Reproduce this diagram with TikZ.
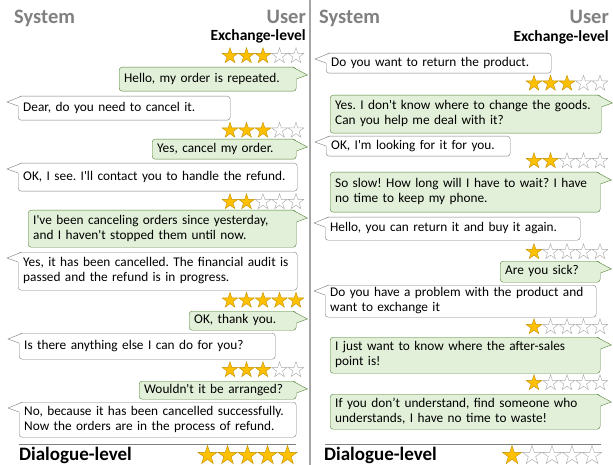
\documentclass[tikz,border=0pt]{standalone}
\usepackage{fontspec}
\setmainfont{Carlito}
\newfontfamily\msgfont{Carlito}
\frenchspacing
\usetikzlibrary{positioning}
\usetikzlibrary{shapes.geometric}
\definecolor{usergreen}{HTML}{E2F0D9}
\definecolor{userline}{HTML}{548235}
\definecolor{sysline}{HTML}{7F7F7F}
\definecolor{headgray}{HTML}{808080}
\definecolor{starfill}{HTML}{FFC000}
\definecolor{starline}{HTML}{BF8F00}
\definecolor{emptyline}{HTML}{A6A6A6}
\tikzset{msg/.style={rectangle,rounded corners=3pt,inner sep=1pt,inner
    xsep=5pt,align=left,anchor=north west,
    font=\msgfont\fontsize{13.3}{15}\selectfont\frenchspacing,
    execute at begin node=\strut,execute at end node=\strut},
    sysmsg/.style={msg,draw=sysline,fill=white},
    usermsg/.style={msg,draw=userline,fill=usergreen},
    systail/.style={draw=sysline,fill=none},
    usertail/.style={draw=userline,fill=none},
    ratestar/.style={star,star points=5,star point ratio=2.6,inner sep=0pt},
    header/.style={font=\bfseries\fontsize{20.5}{20.5}\selectfont,
    text=headgray,inner sep=0pt},
    level/.style={font=\bfseries\fontsize{15.5}{15.5}\selectfont,inner sep=0pt},
    dlevel/.style={font=\bfseries\fontsize{19}{19}\selectfont,inner sep=0pt},
    sepline/.style={-,emptyline,line width=1.5pt},
    rule/.style={-,sysline,line width=0.8pt}}
\newcommand\systail[1]{%
    \fill[white]([xshift=4pt]#1.north west)--([xshift=-11pt,yshift=-6pt]#1.north west)
    --([yshift=-10pt]#1.north west)--([xshift=4pt,yshift=-10pt]#1.north west)--cycle;
    \draw[systail]([xshift=4pt]#1.north west)--([xshift=-11pt,yshift=-6pt]#1.north west)
    --([yshift=-10pt]#1.north west);}
\newcommand\usertail[1]{%
    \fill[usergreen]([xshift=-4pt]#1.north east)--([xshift=11pt,yshift=-8pt]#1.north east)
    --([yshift=-12pt]#1.north east)--([xshift=-4pt,yshift=-12pt]#1.north east)--cycle;
    \draw[usertail]([xshift=-4pt]#1.north east)--([xshift=11pt,yshift=-8pt]#1.north east)
    --([yshift=-12pt]#1.north east);}
\newcommand\rating[5]{%
    \foreach \i in {1,...,5}{%
        \ifnum\i>#2\relax\def\fc{white}\def\dc{emptyline}%
        \else\def\fc{starfill}\def\dc{starline}\fi
        \node[ratestar,draw=\dc,fill=\fc,minimum size=#5pt]
            (#1-\i) at ({#3+(\i-1)*#5},#4) {};}}

\begin{document}
\begin{tikzpicture}[x=1pt,y=-1pt]
        \useasboundingbox (0,0) rectangle (613,465);
        \draw[sepline](310,0)--(310,465);
        \node[header,anchor=base west] (sysA) at (14,24) {System};
        \node[header,anchor=base east] (usrA) at (306,24) {User};
        \node[level,anchor=base east] (exA) at (306,41) {Exchange-level};
        \node[header,anchor=base west] (sysB) at (319,24) {System};
        \node[header,anchor=base east] (usrB) at (609,24) {User};
        \node[level,anchor=base east] (exB) at (609,42) {Exchange-level};
        \rating{ra1}{3}{230}{56}{16.5}
        \node[usermsg,text width=167pt,minimum height=24pt] (u1) at (119,67) {Hello, my order is repeated.};
        \node[sysmsg,text width=202pt,minimum height=24pt] (s1) at (18,96) {Dear, do you need to cancel it.};
        \rating{ra2}{3}{230}{130.5}{16.5}
        \node[usermsg,text width=134pt,minimum height=20pt] (u2) at (152,139) {Yes, cancel my order.};
        \node[sysmsg,text width=269pt,minimum height=28pt] (s2) at (18,163) {OK, I see. I'll contact you to handle the refund.};
        \rating{ra3}{2}{230}{202}{16.5}
        \node[usermsg,text width=258pt,minimum height=37pt] (u3) at (28,210) {I've been canceling orders since yesterday,\\and I haven't stopped them until now.};
        \node[sysmsg,text width=269pt,minimum height=38pt] (s3) at (18,252) {Yes, it has been cancelled. The financial audit is\\passed and the refund is in progress.};
        \rating{ra4}{5}{230}{300.5}{16.5}
        \node[usermsg,text width=97pt,minimum height=19pt] (u4) at (189,311) {OK, thank you.};
        \node[sysmsg,text width=246pt,minimum height=26pt] (s4) at (19,333) {Is there anything else I can do for you?};
        \rating{ra5}{3}{230}{370}{16.5}
        \node[usermsg,text width=147pt,minimum height=18pt] (u5) at (139,381) {Wouldn't it be arranged?};
        \node[sysmsg,text width=267pt,minimum height=35pt] (s5) at (19,402) {No, because it has been cancelled successfully.\\Now the orders are in the process of refund.};
        \draw[rule](19,444)--(296,444);
        \node[dlevel,anchor=base west] (dlA) at (19,460) {Dialogue-level};
        \rating{rd1}{5}{207.5}{455.5}{20}
        \node[sysmsg,text width=215pt,minimum height=20pt] (s6) at (326,53) {Do you want to return the product.};
        \rating{rb1}{3}{534}{83.5}{16.5}
        \node[usermsg,text width=261pt,minimum height=38pt] (u6) at (330,95) {Yes. I don't know where to change the goods.\\Can you help me deal with it?};
        \node[sysmsg,text width=174pt,minimum height=20pt] (s7) at (326,136) {OK, I'm looking for it for you.};
        \rating{rb2}{2}{534}{161}{16.5}
        \node[usermsg,text width=260pt,minimum height=40pt] (u7) at (330,172) {So slow! How long will I have to wait? I have\\no time to keep my phone.};
        \node[sysmsg,text width=245pt,minimum height=23pt] (s8) at (325,217) {Hello, you can return it and buy it again.};
        \rating{rb3}{1}{534}{252}{16.5}
        \node[usermsg,text width=90pt,minimum height=21pt] (u8) at (500,261) {Are you sick?};
        \node[sysmsg,text width=261pt,minimum height=32pt] (s9) at (325,285) {Do you have a problem with the product and\\want to exchange it};
        \rating{rb4}{1}{534}{327}{16.5}
        \node[usermsg,text width=260pt,minimum height=36pt] (u9) at (330,337) {I just want to know where the after-sales\\point is!};
        \rating{rb5}{1}{534}{383}{16.5}
        \node[usermsg,text width=260pt,minimum height=35pt] (u10) at (330,394) {If you don’t understand, find someone who\\understands, I have no time to waste!};
        \draw[rule](325,444)--(601,444);
        \node[dlevel,anchor=base west] (dlB) at (324,460) {Dialogue-level};
        \rating{rd2}{1}{512}{455.5}{20}
        \systail{s1}\systail{s2}\systail{s3}\systail{s4}\systail{s5}
        \systail{s6}\systail{s7}\systail{s8}\systail{s9}
        \usertail{u1}\usertail{u2}\usertail{u3}\usertail{u4}\usertail{u5}
        \usertail{u6}\usertail{u7}\usertail{u8}\usertail{u9}\usertail{u10}
    \end{tikzpicture}
\end{document}
